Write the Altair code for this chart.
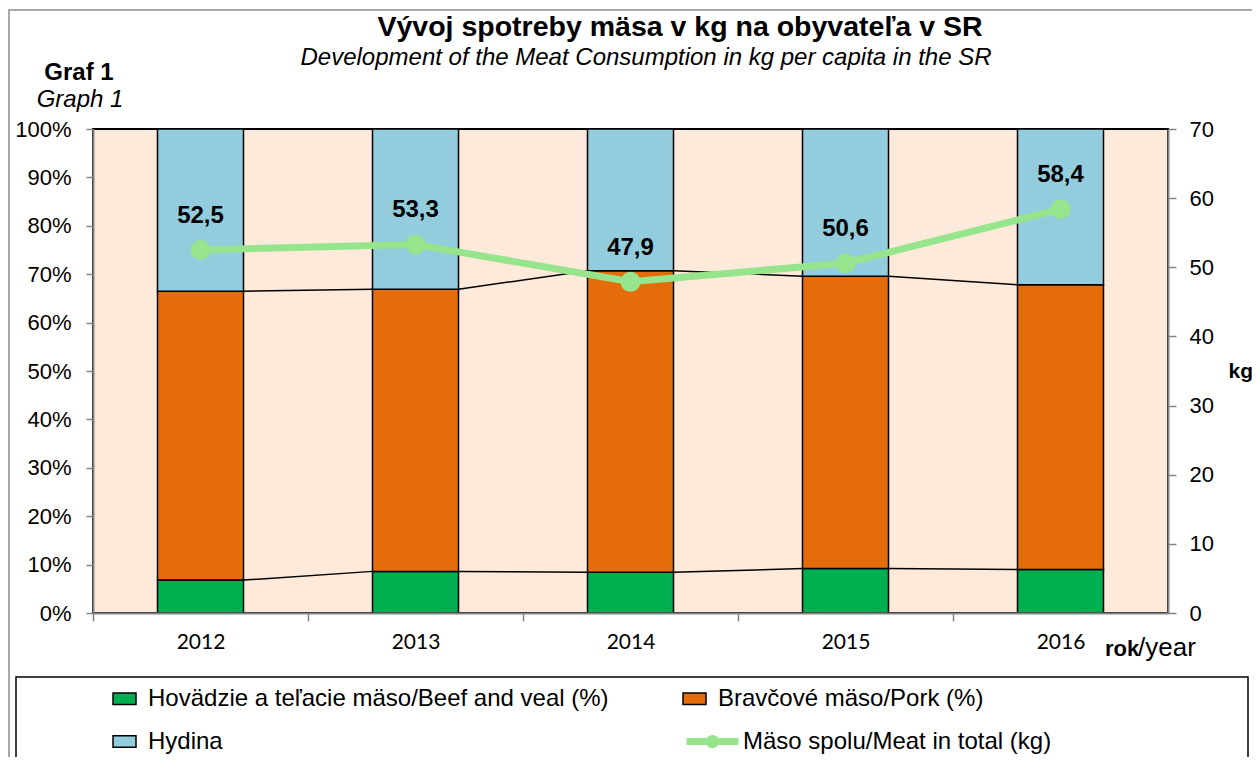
import altair as alt
import pandas as pd

# ---------------- data ----------------
years = [2012, 2013, 2014, 2015, 2016]
beef_pct = [6.8, 8.6, 8.4, 9.2, 9.0]
pork_pct = [59.7, 58.3, 62.3, 60.4, 58.8]
poultry_pct = [33.5, 33.1, 29.3, 30.4, 32.2]
total_kg = [52.5, 53.3, 47.9, 50.6, 58.4]
total_text = ["52,5", "53,3", "47,9", "50,6", "58,4"]

series = [
    "Hovädzie a teľacie mäso/Beef and veal (%)",
    "Bravčové mäso/Pork (%)",
    "Hydina",
]
line_series = "Mäso spolu/Meat  in total (kg)"
pct_ticks = list(range(0, 101, 10))
kg_ticks = list(range(0, 71, 10))

title_text = "Vývoj spotreby mäsa v kg na obyvateľa  v SR"
subtitle_text = "Development of the Meat Consumption in kg per capita in the SR"

# ---------------- style ----------------
GREEN, ORANGE, BLUE = "#00B050", "#E46C0A", "#93CDDD"
LINE = "#96E58C"
BG = "#FDEADA"
AXIS_GREY = "#868686"
FONT = "Liberation Sans"
HALF = 0.2  # half bar width in category units
W, H = 1075, 484

# ---------------- tables ----------------
rows = []
for i, yr in enumerate(years):
    base = 0.0
    for k, (name, vals) in enumerate(zip(series, [beef_pct, pork_pct, poultry_pct])):
        rows.append({"year": yr, "series": name, "order": k,
                     "y0": base, "y1": base + vals[i],
                     "x0": yr - HALF, "x1": yr + HALF})
        base += vals[i]
bars_df = pd.DataFrame(rows)

cum_levels = [
    beef_pct,
    [b + p for b, p in zip(beef_pct, pork_pct)],
]
seg_rows = []
for lvl in cum_levels:
    for i in range(len(years) - 1):
        seg_rows.append({"xa": years[i] + HALF, "xb": years[i + 1] - HALF,
                         "ya": lvl[i], "yb": lvl[i + 1]})
seg_df = pd.DataFrame(seg_rows)

line_df = pd.DataFrame({"year": years, "kg": total_kg, "txt": total_text,
                        "name": [line_series] * len(years)})

one = pd.DataFrame({"k": [0]})

# ---------------- encodings ----------------
x_scale = alt.Scale(domain=[years[0] - 0.5, years[-1] + 0.5], nice=False, zero=False)
step_px = W / len(years)
x_axis = alt.Axis(values=years, format="d", title=None, tickOffset=-step_px / 2,
                  labelOffset=step_px / 2, labelFont="Lato", labelFontSize=21,
                  tickSize=8, labelPadding=10, labelFlush=False, labelOverlap=False,
                  grid=False, zindex=1)
pct_scale = alt.Scale(domain=[0, 100], nice=False)
pct_axis = alt.Axis(values=pct_ticks, labelExpr="datum.value + '%'", title=None,
                    tickSize=7, labelPadding=15, labelFontSize=22, grid=False, zindex=1)
kg_scale = alt.Scale(domain=[0, 70], nice=False)
kg_axis = alt.Axis(orient="right", values=kg_ticks, title="kg", titleAngle=0,
                   titleFontWeight="bold", titleFontSize=21, titleX=60, titleY=H / 2,
                   titleAlign="left", titleBaseline="middle", tickSize=8,
                   labelPadding=13, labelFontSize=22, grid=False, zindex=1)

bars = alt.Chart(bars_df).mark_rect(stroke="black", strokeWidth=1.5).encode(
    x=alt.X("x0:Q", scale=x_scale, axis=x_axis),
    x2="x1:Q",
    y=alt.Y("y0:Q", scale=pct_scale, axis=pct_axis),
    y2="y1:Q",
    fill=alt.Fill("series:N", scale=alt.Scale(domain=series, range=[GREEN, ORANGE, BLUE]),
                  legend=alt.Legend(orient="none", legendX=19, legendY=557, columns=2,
                                    direction="horizontal",
                                    title=None, symbolType="M-1,-0.5H1V0.5H-1Z",
                                    symbolSize=529, symbolStrokeColor="black",
                                    symbolStrokeWidth=1.5, labelFontSize=24,
                                    labelOffset=11, columnPadding=71, rowPadding=18,
                                    labelLimit=0, padding=0, symbolOpacity=1)),
)

connectors = alt.Chart(seg_df).mark_rule(color="black", strokeWidth=1.5).encode(
    x=alt.X("xa:Q", scale=x_scale, axis=x_axis),
    x2="xb:Q",
    y=alt.Y("ya:Q", scale=pct_scale, axis=pct_axis),
    y2="yb:Q",
)

left = alt.layer(bars, connectors)

legend_path = "M-1,0H1M-0.12,0A0.12,0.12 0 1,0 0.12,0A0.12,0.12 0 1,0 -0.12,0"
line = alt.Chart(line_df).mark_line(strokeWidth=7).encode(
    x=alt.X("year:Q", scale=x_scale, axis=x_axis),
    y=alt.Y("kg:Q", scale=kg_scale, axis=kg_axis),
    stroke=alt.Stroke("name:N", scale=alt.Scale(domain=[line_series], range=[LINE]),
                      legend=alt.Legend(orient="none", legendX=590, legendY=583,
                                        title=None, symbolType=legend_path,
                                        symbolSize=2704, symbolStrokeWidth=7,
                                        labelFontSize=24, labelOffset=1, padding=0,
                                        labelLimit=0)),
)
points = alt.Chart(line_df).mark_circle(size=400, color=LINE, opacity=1).encode(
    x=alt.X("year:Q", scale=x_scale, axis=x_axis),
    y=alt.Y("kg:Q", scale=kg_scale, axis=kg_axis),
)
labels = alt.Chart(line_df).mark_text(dy=-34, fontSize=24, fontWeight="bold",
                                      color="black").encode(
    x=alt.X("year:Q", scale=x_scale, axis=x_axis),
    y=alt.Y("kg:Q", scale=kg_scale, axis=kg_axis),
    text="txt:N",
)
right = alt.layer(line, points, labels)

# ---------------- decorations / titles ----------------
frame = alt.Chart(one).mark_rect(filled=False, stroke="#8C8C8C", strokeWidth=1.5).encode(
    x=alt.value(-84), x2=alt.value(1300), y=alt.value(-119), y2=alt.value(900))
legend_box = alt.Chart(one).mark_rect(fill="white", stroke="black", strokeWidth=1.5).encode(
    x=alt.value(-77), x2=alt.value(1155), y=alt.value(548), y2=alt.value(634))
title_mark = alt.Chart(one).mark_text(text=title_text, fontSize=28.5, fontWeight="bold",
                                      align="center", baseline="alphabetic").encode(
    x=alt.value(587), y=alt.value(-93))
subtitle_mark = alt.Chart(one).mark_text(text=subtitle_text, fontSize=24, fontStyle="italic",
                                         align="center", baseline="alphabetic").encode(
    x=alt.value(553), y=alt.value(-64))
graf = alt.Chart(one).mark_text(text="Graf 1", fontSize=24, fontWeight="bold",
                                align="center", baseline="alphabetic").encode(
    x=alt.value(-14), y=alt.value(-49))
graph = alt.Chart(one).mark_text(text="Graph 1", fontSize=24, fontStyle="italic",
                                 align="center", baseline="alphabetic").encode(
    x=alt.value(-13), y=alt.value(-22))
rok = alt.Chart(one).mark_text(text="rok", fontSize=22, fontWeight="bold",
                               align="left", baseline="alphabetic").encode(
    x=alt.value(1012), y=alt.value(527))
year_txt = alt.Chart(one).mark_text(text="/year", fontSize=26, align="left",
                                    baseline="alphabetic").encode(
    x=alt.value(1045), y=alt.value(527))

chart = alt.layer(frame, legend_box, left, right, title_mark, subtitle_mark,
                  graf, graph, rok, year_txt).resolve_scale(
    y="independent"
).properties(
    width=W,
    height=H,
    padding={"left": 85, "top": 121, "right": 84, "bottom": 144},
    autosize=alt.AutoSizeParams(type="none"),
    background="white",
).configure(font=FONT).configure_view(
    fill=BG, stroke="black", strokeWidth=2
).configure_axis(
    labelColor="black", titleColor="black", domainColor=AXIS_GREY, tickColor=AXIS_GREY,
    domainWidth=2, tickWidth=1.5, labelFont=FONT, titleFont=FONT
).configure_legend(labelColor="black", labelFont=FONT)

chart.save("out.html", embed_options={"renderer": "svg", "actions": False})
